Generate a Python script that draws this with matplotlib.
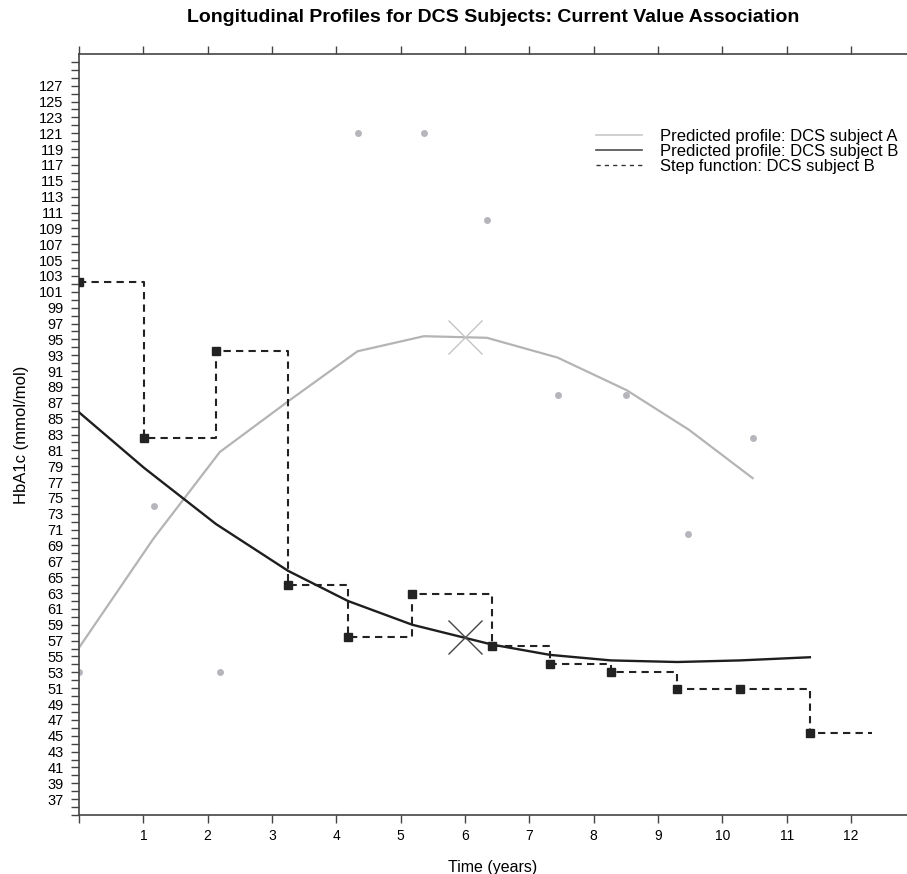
import numpy as np
import matplotlib
matplotlib.use("Agg")
import matplotlib.pyplot as plt
from matplotlib.lines import Line2D

plt.rcParams['font.family'] = ['Liberation Sans', 'DejaVu Sans']

# subject A: observed HbA1c and predicted profile
a_obs_t = [0.0, 1.16, 2.19, 4.33, 5.36, 6.34, 7.44, 8.51, 9.46, 10.47]
a_obs_y = [53, 74, 53, 121, 121, 110, 88, 88, 70.5, 82.6]
a_pred_t = [0.0, 1.16, 2.19, 3.27, 4.33, 5.36, 6.34, 7.44, 8.51, 9.48, 10.47]
a_pred_y = [56.1, 69.9, 80.8, 87.3, 93.5, 95.4, 95.2, 92.7, 88.6, 83.6, 77.5]

# subject B: observation times, observed values (step) and predicted profile
b_t = [0.0, 1.01, 2.13, 3.25, 4.18, 5.18, 6.42, 7.32, 8.27, 9.30, 10.27, 11.36]
b_obs_y = [102.2, 82.6, 93.5, 64.0, 57.5, 62.9, 56.3, 54.1, 53.1, 50.9, 50.9, 45.4]
b_pred_y = [85.8, 78.8, 71.7, 65.8, 62.0, 59.0, 56.5, 55.2, 54.5, 54.3, 54.5, 54.9]
step_end = 12.33

# current value at t = 6
cur_t = 6.0
cur_a = 95.3
cur_b = 57.4

fig = plt.figure(figsize=(9.07, 8.74), dpi=100)
ax = fig.add_axes([79/907, 59/874, 828/907, 761/874])

ax.plot(a_pred_t, a_pred_y, color='#b4b4b4', lw=1.6, zorder=2)
ax.plot(a_obs_t, a_obs_y, 'o', color='#b5b5bc', ms=5, mec='none', zorder=2)

ax.plot(b_t, b_pred_y, color='#1e1e1e', lw=1.7, zorder=3)
ax.plot(b_t + [step_end], b_obs_y + [b_obs_y[-1]], drawstyle='steps-post',
        color='#222222', lw=1.5, ls=(0, (3.5, 2.5)), zorder=3)
ax.plot(b_t, b_obs_y, 's', color='#222222', ms=5.5, zorder=4)

ax.plot([cur_t], [cur_a], 'x', color='#c4c4c4', ms=24, mew=1.0, zorder=4)
ax.plot([cur_t], [cur_b], 'x', color='#444444', ms=24, mew=1.0, zorder=4)

ax.set_xlim(0, 12.87)
ax.set_ylim(35, 131)

ax.set_xticks(range(0, 13))
ax.set_xticklabels([''] + [str(i) for i in range(1, 13)])
ax.set_yticks(range(37, 128, 2))
ax.set_yticks([v for v in range(35, 131) if not (37 <= v <= 127 and v % 2 == 1)], minor=True)

for s in ['left', 'bottom', 'top']:
    ax.spines[s].set_color('#444444')
    ax.spines[s].set_linewidth(1.2)
ax.spines['right'].set_visible(False)

ax.tick_params(axis='x', which='both', direction='out', length=6, width=1,
               color='#444444', labelsize=10, pad=4, top=True, labeltop=False)
ax.tick_params(axis='y', which='both', direction='out', length=6, width=1,
               color='#444444', labelsize=10.5, pad=5)

ax.set_xlabel('Time (years)', fontsize=11.5, labelpad=12)
ax.set_ylabel('HbA1c (mmol/mol)', fontsize=12, labelpad=7)
fig.suptitle('Longitudinal Profiles for DCS Subjects: Current Value Association',
             fontsize=14, fontweight='bold', x=493/907, y=1 - 9/874, va='top')

handles = [Line2D([], [], color='#c8c8c8', lw=1.2),
           Line2D([], [], color='#4d4d4d', lw=1.2),
           Line2D([], [], color='#333333', lw=1.0, ls=(0, (3, 3)))]
labels = ['Predicted profile: DCS subject A',
          'Predicted profile: DCS subject B',
          'Step function: DCS subject B']
ax.legend(handles, labels, loc='upper left', bbox_to_anchor=(0.614, 0.913),
          frameon=False, fontsize=12, borderpad=0, handlelength=2.75,
          handletextpad=1.1, labelspacing=0.0)

fig.savefig('out.png', dpi=100)
